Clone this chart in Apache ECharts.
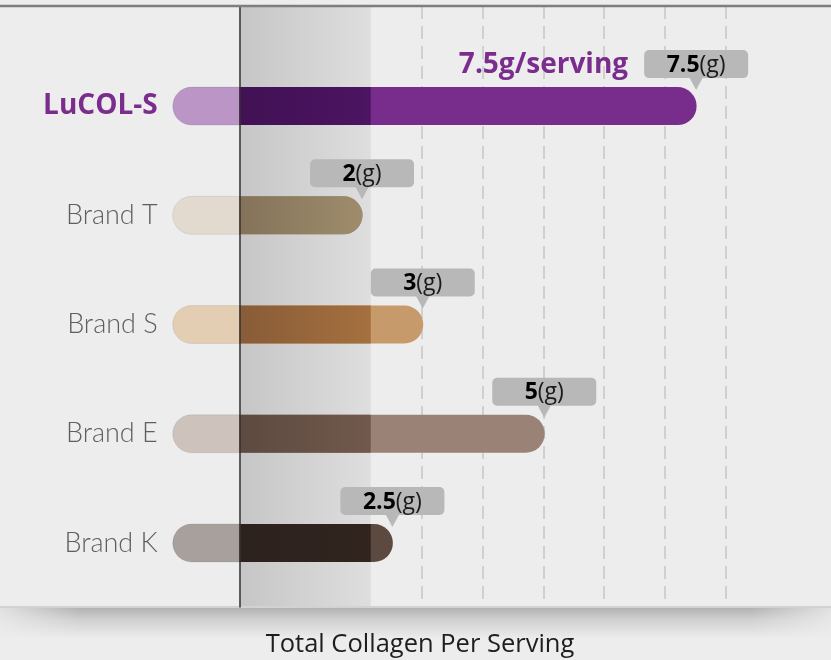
<!DOCTYPE html>
<html>
<head>
<meta charset="utf-8">
<script src="https://cdn.jsdelivr.net/npm/echarts@6/dist/echarts.min.js"></script>
<style>
  html, body { margin: 0; padding: 0; background: #ededed; }
  #chart { width: 831px; height: 660px; }
</style>
</head>
<body>
<div id="chart"></div>
<script>
// data
const categories = ['LuCOL-S', 'Brand T', 'Brand S', 'Brand E', 'Brand K'];
const values = [7.5, 2, 3, 5, 2.5];
const notes = ['7.5g/serving', '', '', '', ''];
const unit = '(g)';
const axisTitle = 'Total Collagen Per Serving';
const leftStart = -1.1;   // pale cap left of the axis
const shadeEnd = 2.16;    // grey highlighted band
const axisMax = 8;

// styles
const paleColors = ['#bb95c6', '#e2dace', '#e3cdb3', '#cdc2bc', '#a8a09c'];
const darkFrom   = ['#411154', '#84735a', '#885c37', '#5d4a40', '#2c221e'];
const darkTo     = ['#4c1461', '#9e8c6c', '#a5703f', '#71594c', '#31241f'];
const mainColors = ['#782d8c', '#9e8d6d', '#c69a6b', '#9a8376', '#5c4a40'];
const purple = '#7b2d8e';
const barH = 38;

const chart = echarts.init(document.getElementById('chart'));

function renderBar(params, api) {
    const i = api.value(0);
    const v = api.value(1);
    const pL = api.coord([leftStart, i]);
    const p0 = api.coord([0, i]);
    const pv = api.coord([v, i]);
    const pS = api.coord([Math.min(v, shadeEnd), i]);
    const cy = p0[1];
    const top = cy - barH / 2;
    const r = barH / 2;
    const kids = [];
    kids.push({
        type: 'rect',
        shape: { x: pL[0], y: top, width: p0[0] - pL[0], height: barH, r: [r, 0, 0, r] },
        style: { fill: paleColors[i], stroke: 'rgba(0,0,0,0.08)', lineWidth: 1 }
    });
    kids.push({
        type: 'rect',
        shape: { x: p0[0], y: top, width: pv[0] - p0[0] + 1.5, height: barH, r: [0, r, r, 0] },
        style: { fill: mainColors[i] }
    });
    kids.push({
        type: 'rect',
        shape: { x: p0[0], y: top, width: pS[0] - p0[0] + (v <= shadeEnd ? 1.5 : 0), height: barH,
                 r: v <= shadeEnd ? [0, r, r, 0] : 0 },
        style: {
            fill: new echarts.graphic.LinearGradient(0, 0, 1, 0, [
                { offset: 0, color: darkFrom[i] },
                { offset: 1, color: darkTo[i] }
            ])
        }
    });
    // callout
    const boxW = 104, boxH = 28;
    const boxBottom = top - 9;
    const bx = pv[0] + 1;
    kids.push({
        type: 'polygon',
        shape: { points: [[bx - 7, boxBottom - 1], [bx + 7, boxBottom - 1], [bx, top + 3]] },
        style: { fill: '#b9b8b8' }
    });
    kids.push({
        type: 'rect',
        shape: { x: bx - boxW / 2, y: boxBottom - boxH, width: boxW, height: boxH, r: 5 },
        style: { fill: '#b9b8b8' }
    });
    kids.push({
        type: 'text',
        x: bx, y: boxBottom - boxH / 2 + 1,
        style: {
            text: '{b|' + v + '}{n|' + unit + '}',
            align: 'center', verticalAlign: 'middle',
            rich: {
                b: { fontFamily: 'Open Sans', fontWeight: 'bold', fontSize: 23, fill: '#000' },
                n: { fontFamily: 'Open Sans', fontSize: 23, fill: '#1a1a1a' }
            }
        }
    });
    if (notes[i]) {
        kids.push({
            type: 'text',
            x: bx - boxW / 2 - 16, y: boxBottom - boxH / 2 + 1,
            style: {
                text: notes[i], align: 'right', verticalAlign: 'middle',
                fontFamily: 'Open Sans', fontWeight: 'bold', fontSize: 28, fill: purple
            }
        });
    }
    return { type: 'group', children: kids };
}

const splitColors = [];
for (let k = 0; k <= axisMax; k++) splitColors.push(k === 0 ? 'rgba(0,0,0,0)' : '#c6c6c6');

chart.setOption({
    backgroundColor: '#ededed',
    animation: false,
    grid: [
        { left: 172.7, right: 105.5, top: 51.5, bottom: 62.4, outerBoundsMode: 'none' },
        { left: 239.5, right: 105.5, top: 6, bottom: 53, outerBoundsMode: 'none' }
    ],
    xAxis: [
        { type: 'value', gridIndex: 0, min: leftStart, max: axisMax, show: false },
        {
            type: 'value', gridIndex: 1, min: 0, max: axisMax, interval: 1, z: 1,
            axisLine: { show: false }, axisTick: { show: false }, axisLabel: { show: false },
            splitLine: { show: true, lineStyle: { color: splitColors, width: 1.5, type: [13, 7] } }
        }
    ],
    yAxis: [
        {
            type: 'category', gridIndex: 0, data: categories, inverse: true,
            axisLine: { show: false }, axisTick: { show: false }, splitLine: { show: false },
            axisLabel: {
                margin: 15,
                formatter: function (val) {
                    return val === categories[0] ? '{h|' + val + '}' : '{n|' + val + '}';
                },
                rich: {
                    h: { fontFamily: 'Open Sans', fontWeight: 'bold', fontSize: 28, color: purple },
                    n: { fontFamily: 'Lato', fontWeight: 300, fontSize: 27, color: '#5e5e5e' }
                }
            }
        },
        {
            type: 'value', gridIndex: 1, min: 0, max: 1, z: 5,
            axisLine: { show: true, lineStyle: { color: '#333', width: 1.5 } },
            axisTick: { show: false }, axisLabel: { show: false }, splitLine: { show: false }
        }
    ],
    graphic: [
        { type: 'line', z: 10, shape: { x1: 0, y1: 6, x2: 831, y2: 6 },
          style: { stroke: '#7e7e7e', lineWidth: 2.5 } },
        { type: 'rect', z: 1, shape: { x: 0, y: 607, width: 831, height: 32 },
          style: { fill: new echarts.graphic.LinearGradient(0, 0, 0, 1, [
              { offset: 0, color: 'rgba(0,0,0,0.26)' },
              { offset: 0.4, color: 'rgba(0,0,0,0.12)' },
              { offset: 1, color: 'rgba(0,0,0,0)' }
          ]) } },
        { type: 'rect', z: 2, shape: { x: 0, y: 607, width: 80, height: 32 },
          style: { fill: new echarts.graphic.LinearGradient(0, 0, 1, 0, [
              { offset: 0, color: 'rgba(237,237,237,0.8)' },
              { offset: 1, color: 'rgba(237,237,237,0)' }
          ]) } },
        { type: 'rect', z: 2, shape: { x: 751, y: 607, width: 80, height: 32 },
          style: { fill: new echarts.graphic.LinearGradient(0, 0, 1, 0, [
              { offset: 0, color: 'rgba(237,237,237,0)' },
              { offset: 1, color: 'rgba(237,237,237,0.8)' }
          ]) } },
        { type: 'line', z: 3, shape: { x1: 0, y1: 607, x2: 831, y2: 607 },
          style: { stroke: '#d2d2d2', lineWidth: 2 } },
        { type: 'text', z: 4, x: 420, y: 645,
          style: { text: axisTitle, align: 'center', verticalAlign: 'middle',
                   fontFamily: 'Open Sans', fontSize: 25.5, fill: '#1e1e1e' } }
    ],
    series: [
        {
            type: 'line', xAxisIndex: 1, yAxisIndex: 1, z: 0,
            data: [[0, 0]], symbolSize: 0, lineStyle: { opacity: 0 }, silent: true,
            markArea: {
                silent: true,
                itemStyle: {
                    color: new echarts.graphic.LinearGradient(0, 0, 1, 0, [
                        { offset: 0, color: '#c6c6c6' },
                        { offset: 1, color: '#dedede' }
                    ])
                },
                data: [[{ xAxis: 0 }, { xAxis: shadeEnd }]]
            }
        },
        {
            type: 'custom', xAxisIndex: 0, yAxisIndex: 0, z: 3,
            encode: { x: 1, y: 0 },
            data: categories.map((c, i) => [i, values[i]]),
            renderItem: renderBar
        }
    ]
});
</script>
</body>
</html>
